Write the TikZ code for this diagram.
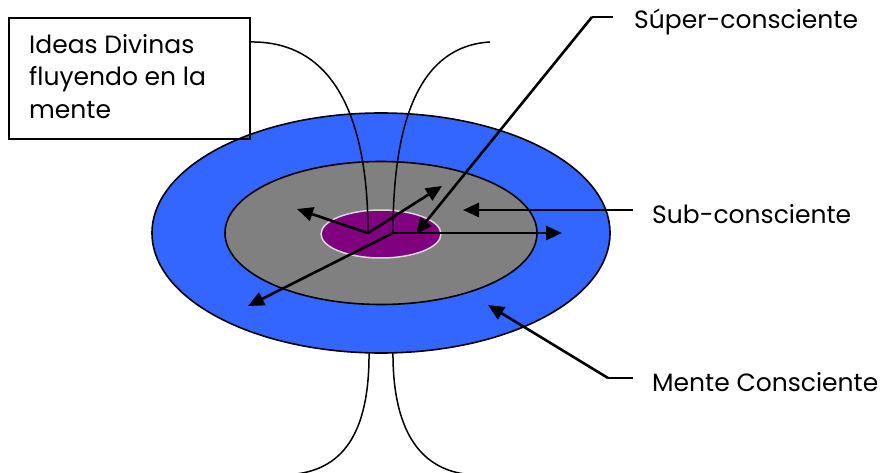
\documentclass[tikz,border=0pt]{standalone}
\usepackage{fontspec}
\setmainfont{Poppins}
\usetikzlibrary{arrows.meta,shapes.geometric}
\definecolor{outerblue}{HTML}{3366FF}
\definecolor{innergray}{HTML}{808080}
\definecolor{corepurple}{HTML}{800080}
\definecolor{coreedge}{HTML}{D8D8D8}
\begin{document}
\begin{tikzpicture}[x=1pt,y=-1pt,
  ring/.style={ellipse, inner sep=0pt, draw=black, line width=1.6pt},
  flow/.style={line width=1.5pt},
  ptr/.style={line width=2.6pt, -{Triangle[length=16pt,width=14pt]}},
  lead/.style={line width=2.6pt},
  lbl/.style={anchor=west, inner sep=0pt, font=\fontsize{25}{30}\selectfont}]
\useasboundingbox (0,0) rectangle (894,473);
% bottom flows (behind)
\coordinate (b1) at (369,350);
\coordinate (b2) at (393,350);
\coordinate (e1) at (296,474);
\coordinate (e2) at (465,474);
\draw[flow] (b1) .. controls (370,430) and (345,468) .. (e1);
\draw[flow] (b2) .. controls (392,430) and (420,468) .. (e2);
% ellipses
\node[ring, fill=outerblue, minimum width=458pt, minimum height=240pt] (outer) at (381,233) {};
\node[ring, fill=innergray, minimum width=312pt, minimum height=143pt] (mid) at (381,233) {};
\node[ellipse, inner sep=0pt, fill=corepurple, draw=coreedge, line width=1.5pt, minimum width=120pt, minimum height=48pt] (core) at (381,234) {};
% box
\node[draw=black, line width=1.8pt, minimum width=241pt, minimum height=121pt, anchor=north west, inner sep=0pt] (box) at (8,17) {};
\node[anchor=north west, align=left, inner sep=0pt, font=\fontsize{25}{32.5}\selectfont] (boxtxt) at (29,34) {Ideas Divinas\\fluyendo en la\\mente};
% top flows
\coordinate (c1) at (368,233);
\coordinate (c2) at (393,233);
\coordinate (s1) at (249,42);
\coordinate (s2) at (490,42);
\draw[flow] (s1) .. controls (335,40) and (368,120) .. (c1);
\draw[flow] (s2) .. controls (420,46) and (393,120) .. (c2);
% radiating arrows
\coordinate (a1) at (297,209);
\coordinate (a2) at (442,186);
\coordinate (a3) at (562,233);
\coordinate (a4) at (248,306);
\draw[ptr] (c1) -- (a1);
\draw[ptr] (c1) -- (a2);
\draw[ptr] (c2) -- (a3);
\draw[ptr] (c2) -- (a4);
% labels
\node[lbl] (sup) at (634,22) {Súper-consciente};
\node[lbl] (sub) at (652,214) {Sub-consciente};
\node[lbl] (men) at (652,382) {Mente Consciente};
\coordinate (k1) at (613,17);
\coordinate (k1b) at (592,17);
\coordinate (t1) at (416,234);
\draw[lead] (k1) -- (k1b);
\draw[ptr] (k1b) -- (t1);
\coordinate (k2) at (633,210);
\coordinate (t2) at (463,210);
\draw[ptr] (k2) -- (t2);
\coordinate (k3) at (633,378);
\coordinate (k3b) at (608,378);
\coordinate (t3) at (488,305);
\draw[lead] (k3) -- (k3b);
\draw[ptr] (k3b) -- (t3);
\end{tikzpicture}
\end{document}
